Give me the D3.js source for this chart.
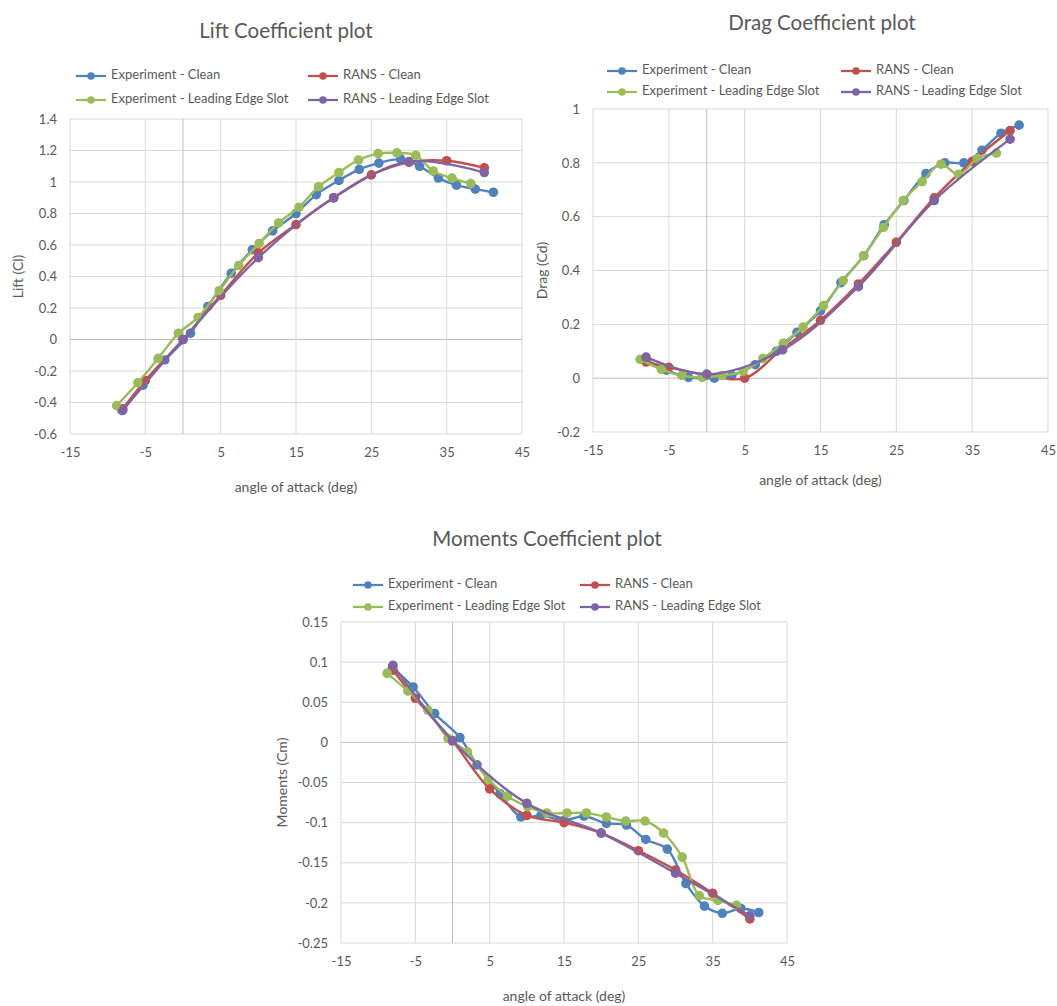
<!DOCTYPE html>
<html>
<head>
<meta charset="utf-8">
<script src="https://cdn.jsdelivr.net/npm/d3@7"></script>
<style>
  html, body { margin: 0; padding: 0; background: #ffffff; }
  svg { display: block; font-family: Lato, "Open Sans", sans-serif; }
</style>
</head>
<body>
<svg id="chart" width="1057" height="1006"></svg>
<script>
// ---- Series names and colours ----
const seriesNames = ["Experiment - Clean", "RANS - Clean", "Experiment - Leading Edge Slot", "RANS - Leading Edge Slot"];
const seriesColors = ["#4F81BD", "#C0504D", "#9BBB59", "#8064A2"];

// ---- Angles of attack (deg) ----
const expCleanAlpha = [-8.1, -5.3, -2.4, 1.0, 3.3, 6.4, 9.2, 11.9, 15.0, 17.7, 20.7, 23.4, 26.0, 28.9, 31.4, 33.9, 36.3, 38.8, 41.2];
const expSlotAlpha  = [-8.8, -6.0, -3.3, -0.6, 2.0, 4.8, 7.4, 10.1, 12.7, 15.4, 18.0, 20.7, 23.3, 25.9, 28.4, 30.9, 33.2, 35.7, 38.2];
const ransCleanAlpha = [-8, -5, 0, 5, 10, 15, 20, 25, 30, 35, 40];
const ransSlotAlpha  = [-8, 0, 10, 20, 30, 40];

// ---- Lift coefficient ----
const liftExpClean  = [-0.45, -0.29, -0.13, 0.04, 0.21, 0.42, 0.57, 0.69, 0.80, 0.92, 1.01, 1.08, 1.12, 1.145, 1.10, 1.025, 0.98, 0.955, 0.935];
const liftRansClean = [-0.44, -0.26, 0.0, 0.28, 0.55, 0.73, 0.90, 1.045, 1.125, 1.135, 1.09];
const liftExpSlot   = [-0.42, -0.275, -0.12, 0.04, 0.14, 0.31, 0.47, 0.61, 0.74, 0.84, 0.97, 1.06, 1.14, 1.18, 1.185, 1.17, 1.07, 1.025, 0.99];
const liftRansSlot  = [-0.45, 0.0, 0.52, 0.90, 1.13, 1.06];

// ---- Drag coefficient ----
const dragExpClean  = [0.07, 0.03, 0.003, 0.0, 0.01, 0.05, 0.10, 0.17, 0.25, 0.355, 0.455, 0.57, 0.66, 0.76, 0.80, 0.80, 0.847, 0.91, 0.94];
const dragRansClean = [0.06, 0.04, 0.012, 0.0, 0.11, 0.215, 0.35, 0.505, 0.67, 0.805, 0.92];
const dragExpSlot   = [0.07, 0.033, 0.01, 0.003, 0.01, 0.025, 0.073, 0.13, 0.19, 0.27, 0.363, 0.455, 0.56, 0.66, 0.73, 0.795, 0.757, 0.816, 0.836];
const dragRansSlot  = [0.078, 0.015, 0.105, 0.34, 0.66, 0.888];

// ---- Moment coefficient ----
const momExpClean  = [0.093, 0.069, 0.036, 0.006, -0.028, -0.064, -0.093, -0.091, -0.097, -0.092, -0.101, -0.103, -0.121, -0.133, -0.176, -0.204, -0.213, -0.207, -0.212];
const momRansClean = [0.09, 0.055, 0.002, -0.058, -0.091, -0.1, -0.113, -0.135, -0.159, -0.188, -0.22];
const momExpSlot   = [0.086, 0.064, 0.04, 0.005, -0.012, -0.046, -0.067, -0.08, -0.088, -0.088, -0.088, -0.093, -0.098, -0.098, -0.113, -0.143, -0.191, -0.197, -0.203];
const momRansSlot  = [0.096, 0.002, -0.076, -0.113, -0.163, -0.216];

// ---- Tick labels ----
const alphaTicks = [-15, -5, 5, 15, 25, 35, 45];
const liftTicks = [-0.6, -0.4, -0.2, 0, 0.2, 0.4, 0.6, 0.8, 1, 1.2, 1.4];
const dragTicks = [-0.2, 0, 0.2, 0.4, 0.6, 0.8, 1];
const momTicks = [-0.25, -0.2, -0.15, -0.1, -0.05, 0, 0.05, 0.1, 0.15];

const svg = d3.select("#chart");
const textColor = "#595959";
const fmt = d => String(+d.toFixed(2)).replace("\u2212", "-");

function zip(xs, ys) { return xs.map((x, i) => ({ x, y: ys[i] })); }

function drawChart(cfg) {
  const g = svg.append("g");
  const x = d3.scaleLinear().domain([-15, 45]).range([cfg.left, cfg.right]);
  const y = d3.scaleLinear().domain(cfg.yDomain).range([cfg.bottom, cfg.top]);

  // gridlines
  g.append("g").selectAll("line.h").data(cfg.yTicks).join("line")
    .attr("x1", cfg.left).attr("x2", cfg.right)
    .attr("y1", d => y(d)).attr("y2", d => y(d))
    .attr("stroke", d => d === 0 ? "#bfbfbf" : "#d9d9d9").attr("stroke-width", 1);
  g.append("g").selectAll("line.v").data(alphaTicks).join("line")
    .attr("x1", d => x(d)).attr("x2", d => x(d))
    .attr("y1", cfg.top).attr("y2", cfg.bottom)
    .attr("stroke", "#d9d9d9").attr("stroke-width", 1);
  // vertical axis line at zero incidence
  g.append("line").attr("x1", x(0)).attr("x2", x(0))
    .attr("y1", cfg.top).attr("y2", cfg.bottom)
    .attr("stroke", "#bfbfbf").attr("stroke-width", 1);

  // axes (labels only)
  const yAxis = g.append("g").attr("transform", `translate(${cfg.left - 13},0)`)
    .call(d3.axisLeft(y).tickValues(cfg.yTicks).tickFormat(fmt).tickSize(0).tickPadding(0));
  yAxis.select(".domain").remove();
  yAxis.selectAll("text").attr("fill", textColor).style("font-size", "13px").style("font-family", "Lato, sans-serif");

  const xAxis = g.append("g").attr("transform", `translate(0,${cfg.bottom + 14})`)
    .call(d3.axisBottom(x).tickValues(alphaTicks).tickFormat(fmt).tickSize(0).tickPadding(0));
  xAxis.select(".domain").remove();
  xAxis.selectAll("text").attr("fill", textColor).style("font-size", "13px").style("font-family", "Lato, sans-serif");

  // axis titles
  g.append("text").attr("x", (cfg.left + cfg.right) / 2).attr("y", cfg.xLabelY)
    .attr("text-anchor", "middle").attr("fill", textColor).style("font-size", "14px")
    .text("angle of attack (deg)");
  g.append("text").attr("transform", `translate(${cfg.yLabelX},${(cfg.top + cfg.bottom) / 2}) rotate(-90)`)
    .attr("text-anchor", "middle").attr("dominant-baseline", "middle")
    .attr("fill", textColor).style("font-size", "14px").text(cfg.yLabel);

  // chart title
  g.append("text").attr("x", cfg.titleX).attr("y", cfg.titleY)
    .attr("text-anchor", "middle").attr("dominant-baseline", "middle")
    .attr("fill", textColor).style("font-size", "20.5px").text(cfg.title);

  // legend
  cfg.legend.forEach((pos, i) => {
    const lg = g.append("g");
    lg.append("line").attr("x1", pos[0]).attr("x2", pos[0] + 30)
      .attr("y1", pos[1]).attr("y2", pos[1])
      .attr("stroke", seriesColors[i]).attr("stroke-width", 2.25);
    lg.append("circle").attr("cx", pos[0] + 15).attr("cy", pos[1]).attr("r", 3.8)
      .attr("fill", seriesColors[i]);
    lg.append("text").attr("x", pos[0] + 35).attr("y", pos[1])
      .attr("dominant-baseline", "middle").attr("fill", textColor)
      .style("font-size", "13px").text(seriesNames[i]);
  });

  // series
  const line = d3.line().x(d => x(d.x)).y(d => y(d.y)).curve(d3.curveCatmullRom.alpha(0.5));
  cfg.series.forEach((pts, i) => {
    const sg = g.append("g");
    sg.append("path").datum(pts).attr("d", line)
      .attr("fill", "none").attr("stroke", seriesColors[i]).attr("stroke-width", 2.4)
      .attr("stroke-linejoin", "round");
    sg.selectAll("circle").data(pts).join("circle")
      .attr("cx", d => x(d.x)).attr("cy", d => y(d.y)).attr("r", 4.8)
      .attr("fill", seriesColors[i]);
  });
}

drawChart({
  title: "Lift Coefficient plot", titleX: 286, titleY: 33,
  left: 70, right: 522, top: 119, bottom: 434,
  yDomain: [-0.6, 1.4], yTicks: liftTicks,
  yLabel: "Lift (Cl)", yLabelX: 19, xLabelY: 492,
  legend: [[76, 76], [308, 76], [76, 100], [308, 100]],
  series: [zip(expCleanAlpha, liftExpClean), zip(ransCleanAlpha, liftRansClean),
           zip(expSlotAlpha, liftExpSlot), zip(ransSlotAlpha, liftRansSlot)]
});

drawChart({
  title: "Drag Coefficient plot", titleX: 822, titleY: 25,
  left: 593, right: 1048, top: 109, bottom: 432,
  yDomain: [-0.2, 1], yTicks: dragTicks,
  yLabel: "Drag (Cd)", yLabelX: 543, xLabelY: 485,
  legend: [[607, 71], [841, 71], [607, 92], [841, 92]],
  series: [zip(expCleanAlpha, dragExpClean), zip(ransCleanAlpha, dragRansClean),
           zip(expSlotAlpha, dragExpSlot), zip(ransSlotAlpha, dragRansSlot)]
});

drawChart({
  title: "Moments Coefficient plot", titleX: 547, titleY: 541,
  left: 341, right: 787, top: 622, bottom: 943,
  yDomain: [-0.25, 0.15], yTicks: momTicks,
  yLabel: "Moments (Cm)", yLabelX: 283, xLabelY: 1001,
  legend: [[353, 585], [580, 585], [353, 607], [580, 607]],
  series: [zip(expCleanAlpha, momExpClean), zip(ransCleanAlpha, momRansClean),
           zip(expSlotAlpha, momExpSlot), zip(ransSlotAlpha, momRansSlot)]
});
</script>
</body>
</html>
